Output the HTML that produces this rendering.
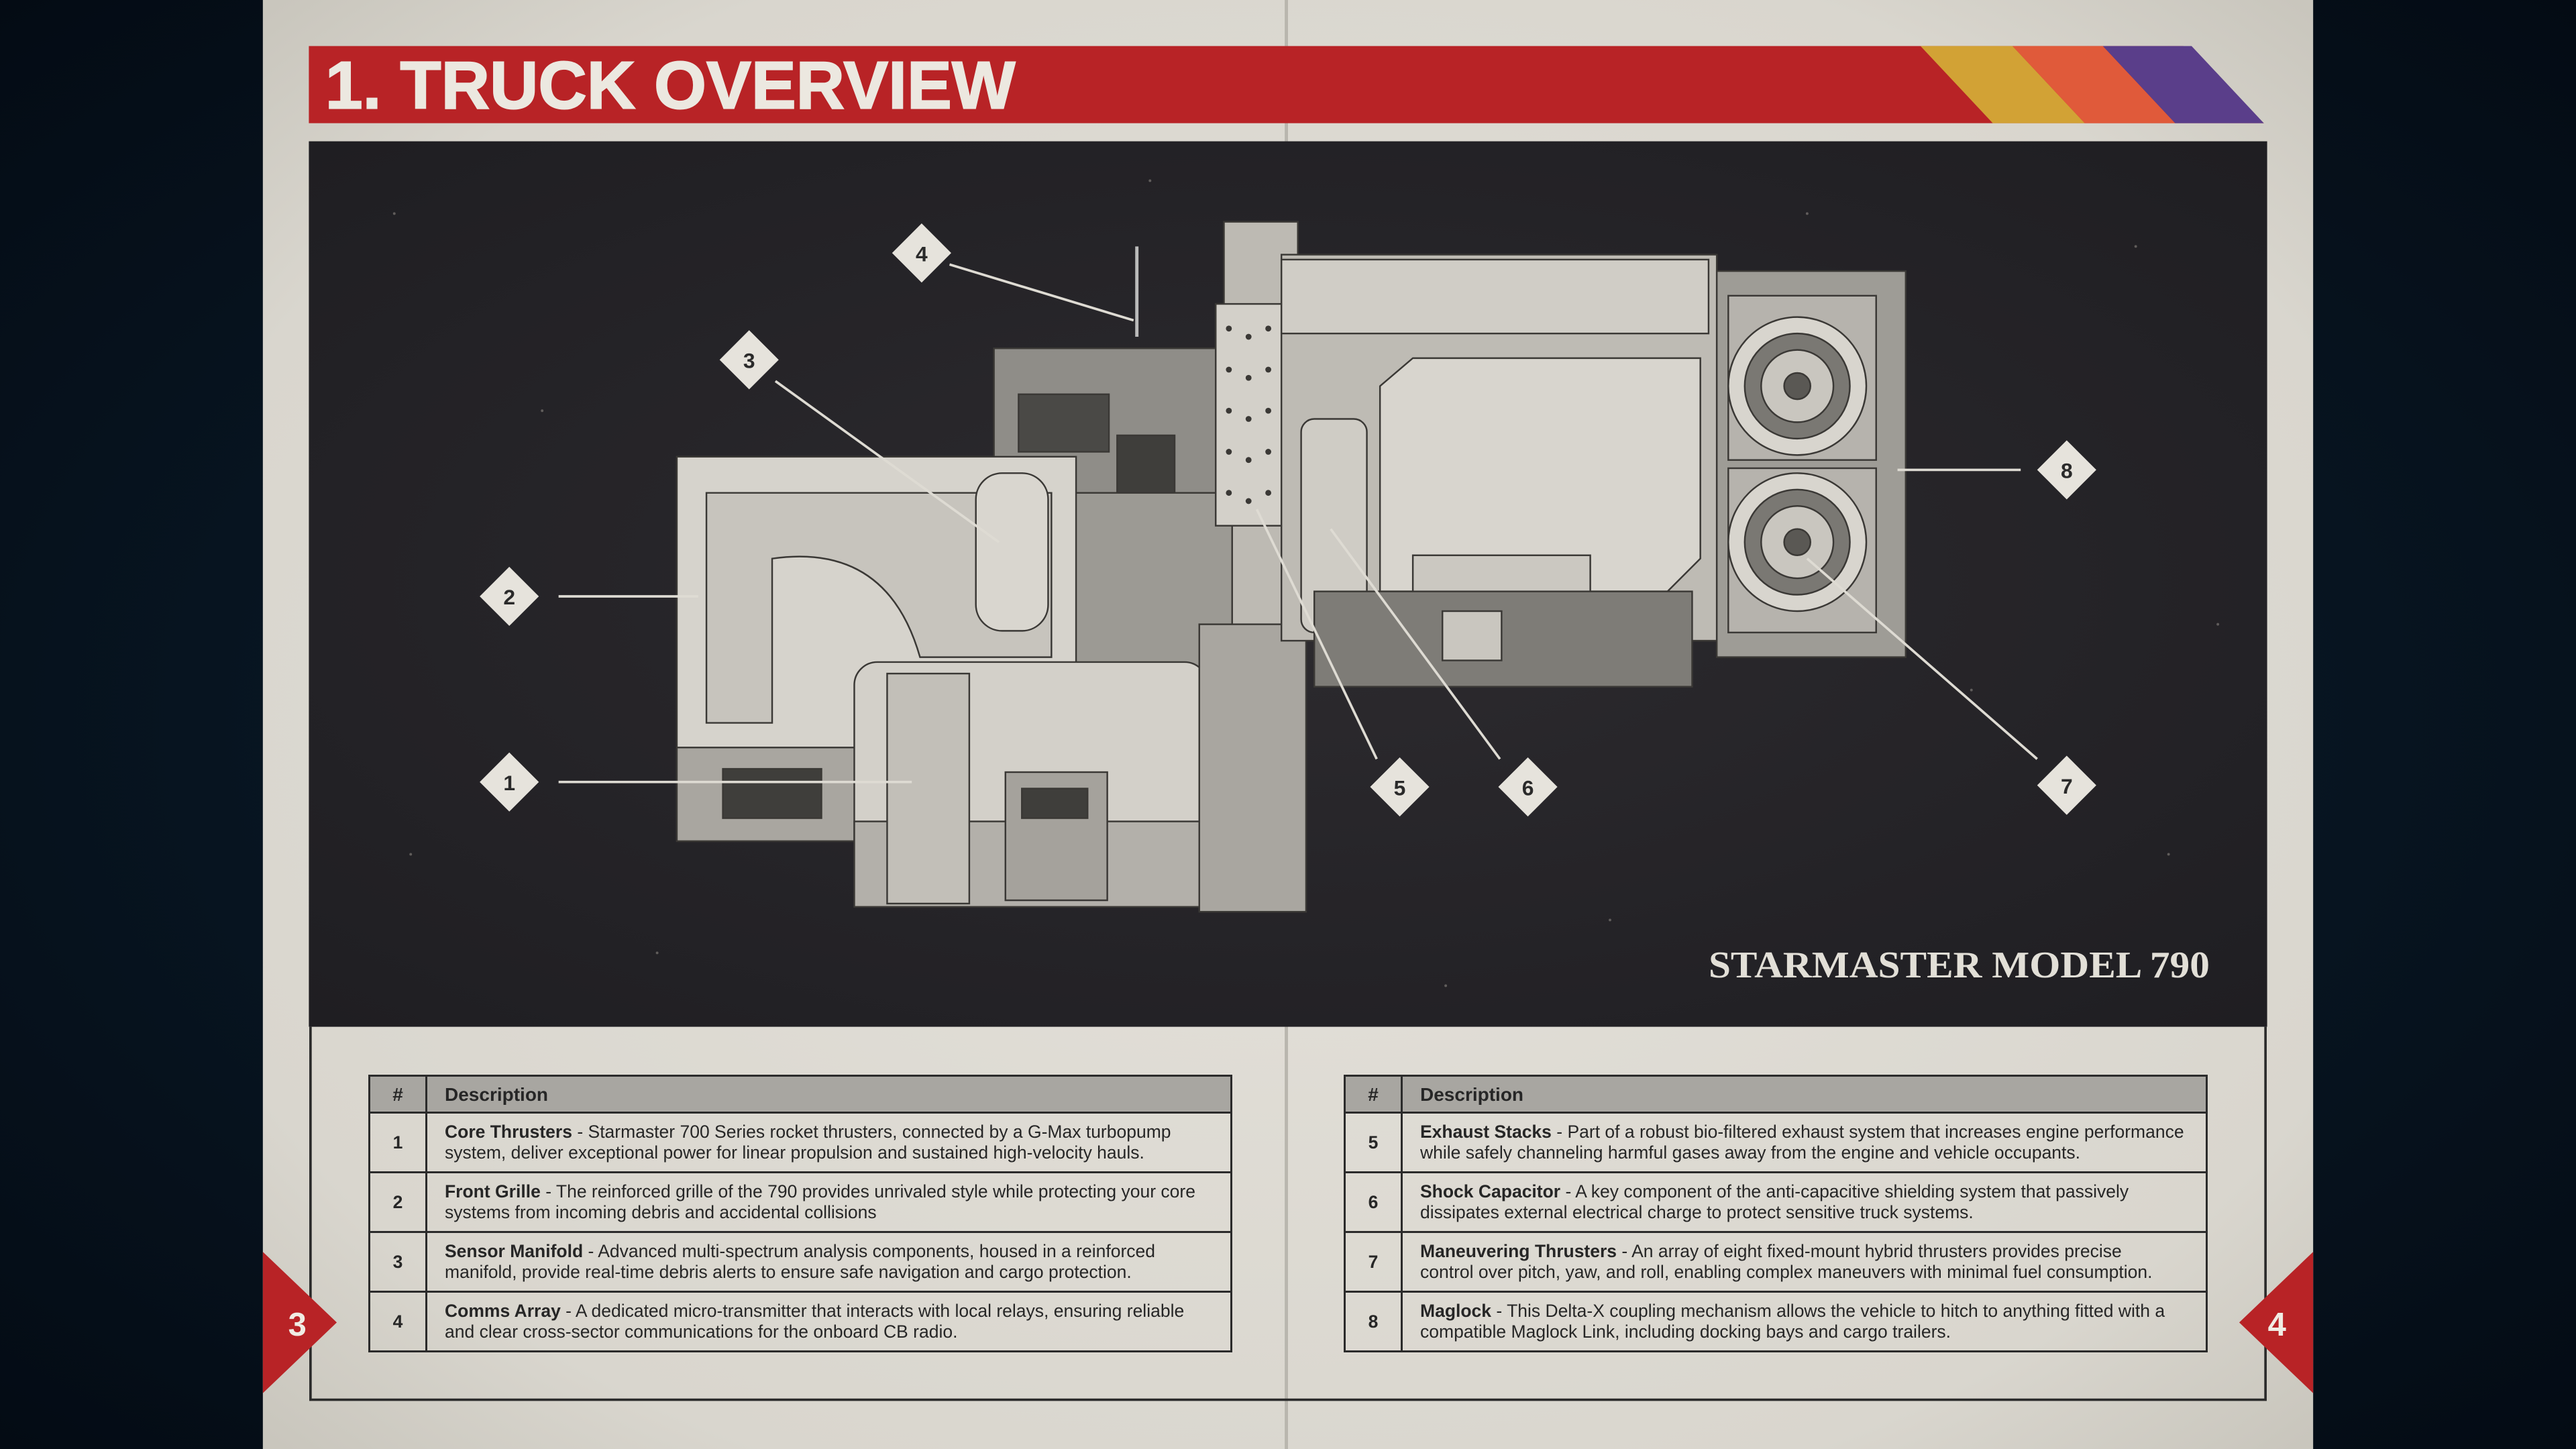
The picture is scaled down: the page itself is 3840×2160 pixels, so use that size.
<!DOCTYPE html>
<html><head><meta charset="utf-8">
<style>
html,body{margin:0;padding:0;}
body{width:3840px;height:2160px;overflow:hidden;position:relative;background:radial-gradient(ellipse at 50% 50%,#0d2233 0%,#071420 60%,#040b14 100%);font-family:"Liberation Sans",sans-serif;}
svg.main{position:absolute;left:0;top:0;}
table.t{position:absolute;border-collapse:collapse;font-family:"Liberation Sans",sans-serif;color:#262626;font-size:26.5px;line-height:31px;}
table.t td,table.t th{border:3px solid #2b2b2b;padding:0;}
table.t th{background:#a8a6a1;height:52px;text-align:left;font-size:28px;}
table.t th.n,table.t td.n{width:82px;text-align:center;font-weight:bold;}
table.t td.d{padding:8px 6px 8px 26px;height:70px;vertical-align:middle;white-space:nowrap;}
table.t th.d{padding-left:26px;}
</style></head><body>
<svg class="main" width="3840" height="2160" viewBox="0 0 1568 882" xmlns="http://www.w3.org/2000/svg">
<defs>
<radialGradient id="pg" cx="50%" cy="50%" r="70%">
<stop offset="0" stop-color="#e4e1da"/><stop offset="0.8" stop-color="#d9d6ce"/><stop offset="1" stop-color="#c9c6bd"/>
</radialGradient>
<radialGradient id="sp" cx="50%" cy="50%" r="70%">
<stop offset="0" stop-color="#2d2b2f"/><stop offset="1" stop-color="#1f1e22"/>
</radialGradient>
</defs>
<rect x="160" y="0" width="1248" height="882" fill="url(#pg)"/>
<line x1="783" y1="0" x2="783" y2="882" stroke="#b9b6ae" stroke-width="2"/>
<polygon points="188,28 1329,28 1378,75 188,75" fill="#b82326"/>
<polygon points="1169,28 1225,28 1269,75 1213,75" fill="#d2a235"/>
<polygon points="1225,28 1280,28 1324,75 1269,75" fill="#e05a3a"/>
<polygon points="1280,28 1334,28 1378,75 1324,75" fill="#5a3e8a"/>
<text x="198" y="66" font-family="Liberation Sans" font-weight="bold" font-size="41" fill="#ece8e0" stroke="#ece8e0" stroke-width="0.8" textLength="420" lengthAdjust="spacingAndGlyphs">1. TRUCK OVERVIEW</text>
<rect x="188" y="86" width="1192" height="539" fill="url(#sp)"/>
<g fill="#8a8580" opacity="0.6">
<circle cx="240" cy="130" r="0.8"/><circle cx="330" cy="250" r="0.8"/><circle cx="1300" cy="150" r="0.8"/><circle cx="1200" cy="420" r="0.8"/><circle cx="1320" cy="520" r="0.8"/><circle cx="400" cy="580" r="0.8"/><circle cx="980" cy="560" r="0.8"/><circle cx="700" cy="110" r="0.8"/><circle cx="1100" cy="130" r="0.8"/><circle cx="250" cy="520" r="0.8"/><circle cx="1350" cy="380" r="0.8"/><circle cx="880" cy="600" r="0.8"/>
</g>
<g stroke="#3a3835" stroke-width="1">
<rect x="745" y="135" width="45" height="290" fill="#bdbab3"/>
<rect x="605" y="212" width="145" height="100" fill="#8f8d88"/>
<rect x="620" y="240" width="55" height="35" fill="#4a4946"/>
<rect x="680" y="265" width="35" height="50" fill="#3f3e3b"/>
<rect x="650" y="300" width="100" height="110" fill="#9c9a94"/>
<rect x="412" y="278" width="243" height="234" fill="#d6d3cc"/>
<path d="M430,300 L640,300 L640,400 L560,400 Q540,330 470,340 L470,440 L430,440Z" fill="#c7c4bd"/>
<rect x="594" y="288" width="44" height="96" rx="16" fill="#d9d6cf"/>
<rect x="412" y="455" width="110" height="57" fill="#a9a6a0"/>
<rect x="440" y="468" width="60" height="30" fill="#3f3e3b"/>
<rect x="520" y="403" width="215" height="149" rx="14" fill="#d3d0c9"/>
<rect x="520" y="500" width="215" height="52" fill="#b3b0aa"/>
<rect x="540" y="410" width="50" height="140" fill="#c2bfb8"/>
<rect x="612" y="470" width="62" height="78" fill="#a5a29c"/>
<rect x="622" y="480" width="40" height="18" fill="#3f3e3b"/>
<rect x="730" y="380" width="65" height="175" fill="#a9a6a0"/>
<rect x="740" y="185" width="40" height="135" fill="#d3d0c9"/>
<rect x="780" y="155" width="265" height="235" fill="#bebbb4"/>
<rect x="780" y="158" width="260" height="45" fill="#d0cdc6"/>
<path d="M840,235 L860,218 L1035,218 L1035,340 L1015,360 L840,360Z" fill="#d8d5ce"/>
<rect x="860" y="338" width="108" height="25" fill="#cbc8c1"/>
<rect x="792" y="255" width="40" height="130" rx="8" fill="#cfccc5"/>
<rect x="800" y="360" width="230" height="58" fill="#7e7c77"/>
<rect x="878" y="372" width="36" height="30" fill="#c9c6bf"/>
<rect x="1045" y="165" width="115" height="235" fill="#9e9c96"/>
<rect x="1052" y="180" width="90" height="100" fill="#b6b3ad"/>
<rect x="1052" y="285" width="90" height="100" fill="#b6b3ad"/>
<circle cx="1094" cy="235" r="42" fill="#d8d5ce"/>
<circle cx="1094" cy="235" r="32" fill="#7a7873"/>
<circle cx="1094" cy="235" r="22" fill="#c9c6bf"/>
<circle cx="1094" cy="235" r="8" fill="#5a5854"/>
<circle cx="1094" cy="330" r="42" fill="#d8d5ce"/>
<circle cx="1094" cy="330" r="32" fill="#7a7873"/>
<circle cx="1094" cy="330" r="22" fill="#c9c6bf"/>
<circle cx="1094" cy="330" r="8" fill="#5a5854"/>
<line x1="692" y1="150" x2="692" y2="205" stroke="#bbb" stroke-width="2"/>
</g>
<g fill="#3a3835">
<circle cx="748" cy="200" r="1.8"/><circle cx="760" cy="205" r="1.8"/><circle cx="772" cy="200" r="1.8"/>
<circle cx="748" cy="225" r="1.8"/><circle cx="760" cy="230" r="1.8"/><circle cx="772" cy="225" r="1.8"/>
<circle cx="748" cy="250" r="1.8"/><circle cx="760" cy="255" r="1.8"/><circle cx="772" cy="250" r="1.8"/>
<circle cx="748" cy="275" r="1.8"/><circle cx="760" cy="280" r="1.8"/><circle cx="772" cy="275" r="1.8"/>
<circle cx="748" cy="300" r="1.8"/><circle cx="760" cy="305" r="1.8"/><circle cx="772" cy="300" r="1.8"/>
</g>
<g stroke="#dedbd3" stroke-width="1.5" fill="none">
<line x1="578" y1="161" x2="690" y2="195"/>
<line x1="472" y1="232" x2="608" y2="330"/>
<line x1="340" y1="363" x2="425" y2="363"/>
<line x1="340" y1="476" x2="555" y2="476"/>
<line x1="838" y1="462" x2="765" y2="310"/>
<line x1="913" y1="462" x2="810" y2="322"/>
<line x1="1240" y1="462" x2="1100" y2="340"/>
<line x1="1230" y1="286" x2="1155" y2="286"/>
</g>
<g font-family="Liberation Sans" font-weight="bold" font-size="13" fill="#2a2a2a" text-anchor="middle">
<g transform="translate(561,154)"><polygon points="0,-18 18,0 0,18 -18,0" fill="#e6e3dc"/><text y="5">4</text></g>
<g transform="translate(456,219)"><polygon points="0,-18 18,0 0,18 -18,0" fill="#e6e3dc"/><text y="5">3</text></g>
<g transform="translate(310,363)"><polygon points="0,-18 18,0 0,18 -18,0" fill="#e6e3dc"/><text y="5">2</text></g>
<g transform="translate(310,476)"><polygon points="0,-18 18,0 0,18 -18,0" fill="#e6e3dc"/><text y="5">1</text></g>
<g transform="translate(852,479)"><polygon points="0,-18 18,0 0,18 -18,0" fill="#e6e3dc"/><text y="5">5</text></g>
<g transform="translate(930,479)"><polygon points="0,-18 18,0 0,18 -18,0" fill="#e6e3dc"/><text y="5">6</text></g>
<g transform="translate(1258,478)"><polygon points="0,-18 18,0 0,18 -18,0" fill="#e6e3dc"/><text y="5">7</text></g>
<g transform="translate(1258,286)"><polygon points="0,-18 18,0 0,18 -18,0" fill="#e6e3dc"/><text y="5">8</text></g>
</g>
<text x="1345" y="595" text-anchor="end" font-family="Liberation Serif" font-weight="bold" font-size="23" fill="#e2dfd7" textLength="305" lengthAdjust="spacingAndGlyphs">STARMASTER MODEL 790</text>
<path d="M189,625 L189,852 L1379,852 L1379,625" fill="none" stroke="#2b2b2b" stroke-width="1.5"/>
<polygon points="160,762 205,805 160,848" fill="#b82326"/>
<text x="181" y="813" font-family="Liberation Sans" font-weight="bold" font-size="20" fill="#f0ece4" text-anchor="middle">3</text>
<polygon points="1408,762 1363,805 1408,848" fill="#b82326"/>
<text x="1386" y="813" font-family="Liberation Sans" font-weight="bold" font-size="20" fill="#f0ece4" text-anchor="middle">4</text>
</svg>

<table class="t" style="left:549px;top:1602px;width:1288px;">
<tr><th class="n">#</th><th class="d">Description</th></tr>
<tr><td class="n">1</td><td class="d"><b>Core Thrusters</b> - Starmaster 700 Series rocket thrusters, connected by a G-Max turbopump<br>system, deliver exceptional power for linear propulsion and sustained high-velocity hauls.</td></tr>
<tr><td class="n">2</td><td class="d"><b>Front Grille</b> - The reinforced grille of the 790 provides unrivaled style while protecting your core<br>systems from incoming debris and accidental collisions</td></tr>
<tr><td class="n">3</td><td class="d"><b>Sensor Manifold</b> - Advanced multi-spectrum analysis components, housed in a reinforced<br>manifold, provide real-time debris alerts to ensure safe navigation and cargo protection.</td></tr>
<tr><td class="n">4</td><td class="d"><b>Comms Array</b> - A dedicated micro-transmitter that interacts with local relays, ensuring reliable<br>and clear cross-sector communications for the onboard CB radio.</td></tr>
</table>

<table class="t" style="left:2003px;top:1602px;width:1288px;">
<tr><th class="n">#</th><th class="d">Description</th></tr>
<tr><td class="n">5</td><td class="d"><b>Exhaust Stacks</b> - Part of a robust bio-filtered exhaust system that increases engine performance<br>while safely channeling harmful gases away from the engine and vehicle occupants.</td></tr>
<tr><td class="n">6</td><td class="d"><b>Shock Capacitor</b> - A key component of the anti-capacitive shielding system that passively<br>dissipates external electrical charge to protect sensitive truck systems.</td></tr>
<tr><td class="n">7</td><td class="d"><b>Maneuvering Thrusters</b> - An array of eight fixed-mount hybrid thrusters provides precise<br>control over pitch, yaw, and roll, enabling complex maneuvers with minimal fuel consumption.</td></tr>
<tr><td class="n">8</td><td class="d"><b>Maglock</b> - This Delta-X coupling mechanism allows the vehicle to hitch to anything fitted with a<br>compatible Maglock Link, including docking bays and cargo trailers.</td></tr>
</table>
</body></html>
